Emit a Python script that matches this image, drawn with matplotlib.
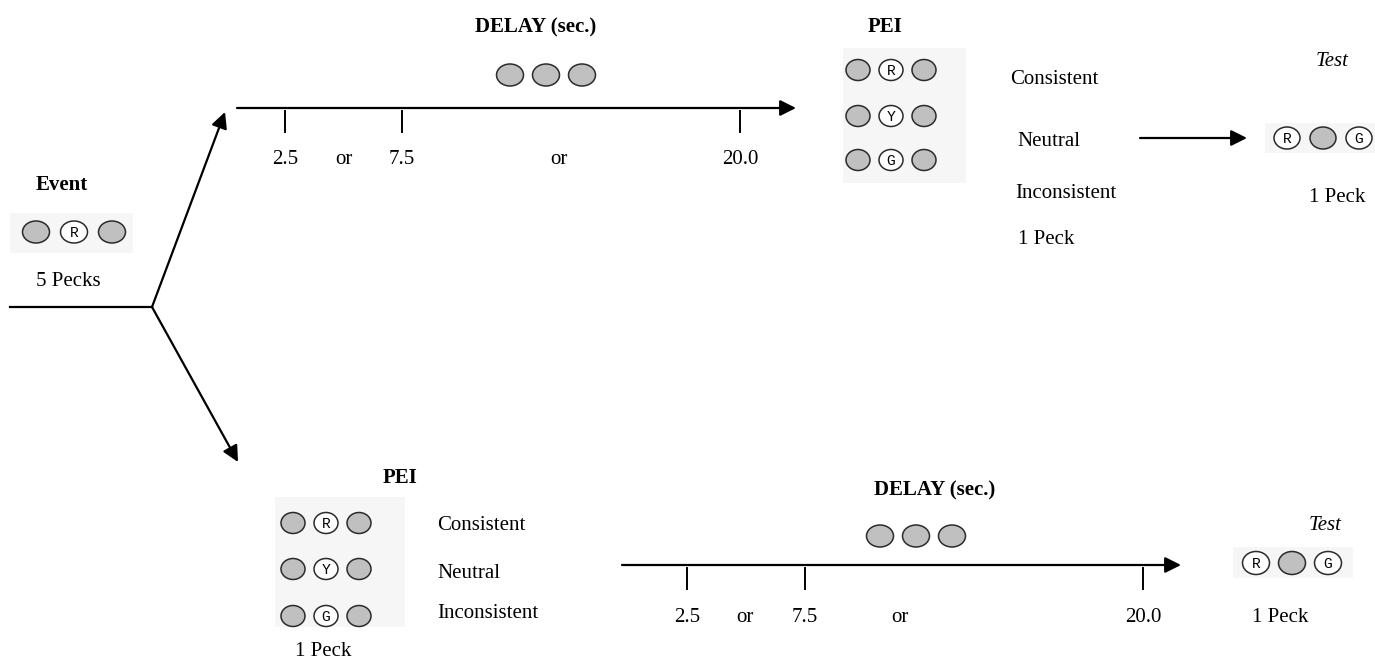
import matplotlib.pyplot as plt
from matplotlib.patches import Ellipse, Rectangle

plt.rcParams['font.family'] = ['Liberation Serif', 'DejaVu Serif']

# keys shown at each stage ('' = plain grey key)
event_keys = ['', 'R', '']
delay_keys = ['', '', '']
pei_keys = [['', 'R', ''], ['', 'Y', ''], ['', 'G', '']]
pei_labels = ['Consistent', 'Neutral', 'Inconsistent']
test_keys = ['R', '', 'G']
delay_ticks = ['2.5', '7.5', '20.0']
delay_or = ['or', 'or']
peck_event = '5 Pecks'
peck_choice = '1 Peck'

GREY = '#c0c0c0'
EDGE = '#2b2b2b'
PANEL = '#f6f6f6'

fig = plt.figure(figsize=(13.75, 6.6), dpi=100)
ax = fig.add_axes([0, 0, 1, 1])
ax.set_xlim(0, 1375)
ax.set_ylim(660, 0)
ax.axis('off')


def keys(row, x0, y, step=36, w=27, h=22):
    for i, k in enumerate(row):
        x = x0 + i * step
        ax.add_patch(Ellipse((x, y), w, h, facecolor='white' if k else GREY,
                             edgecolor=EDGE, lw=1.1, zorder=3))
        if k:
            ax.text(x, y + 1, k, ha='center', va='center', fontsize=10.5,
                    family=['Liberation Mono', 'DejaVu Sans Mono'], zorder=4)


def panel(x0, y0, x1, y1):
    ax.add_patch(Rectangle((x0, y0), x1 - x0, y1 - y0, facecolor=PANEL,
                           edgecolor='none', zorder=1))


def arrow(x0, y0, x1, y1):
    ax.annotate('', xy=(x1, y1), xytext=(x0, y0),
                arrowprops=dict(arrowstyle='-|>', color='black', lw=1.6,
                                mutation_scale=24, shrinkA=0, shrinkB=0))


def timeline(x0, x1, y, ticks_x, or_x, lab_y):
    arrow(x0, y, x1, y)
    for tx, lab in zip(ticks_x, delay_ticks):
        ax.plot([tx, tx], [y + 3, y + 24], color='black', lw=1.4)
        ax.text(tx, lab_y, lab, ha='center', va='center', fontsize=15)
    for ox, lab in zip(or_x, delay_or):
        ax.text(ox, lab_y, lab, ha='center', va='center', fontsize=15)


# event
ax.text(62, 185, 'Event', ha='center', va='center', fontsize=15, fontweight='bold')
panel(10, 213, 133, 253)
keys(event_keys, 36, 232, step=38)
ax.text(68, 282, peck_event, ha='center', va='center', fontsize=15)
ax.plot([10, 152], [307, 307], color='black', lw=1.6)
arrow(152, 307, 225, 112)
arrow(152, 307, 238, 462)

# upper route: delay then PEI
ax.text(536, 27, 'DELAY (sec.)', ha='center', va='center', fontsize=15, fontweight='bold')
keys(delay_keys, 510, 75)
timeline(237, 796, 108, [285, 402, 740], [344, 559], 159)

ax.text(885, 27, 'PEI', ha='center', va='center', fontsize=15, fontweight='bold')
panel(843, 48, 966, 183)
for row, yy in zip(pei_keys, [70, 116, 160]):
    keys(row, 858, yy, step=33, w=24, h=21)
for lab, lx, ly in zip(pei_labels, [1010, 1017, 1015], [79, 141, 194]):
    ax.text(lx, ly, lab, ha='left', va='center', fontsize=15)
ax.text(1018, 240, peck_choice, ha='left', va='center', fontsize=15)

arrow(1140, 138, 1247, 138)
ax.text(1332, 62, 'Test', ha='center', va='center', fontsize=15, style='italic')
panel(1265, 123, 1375, 153)
keys(test_keys, 1287, 138, step=36, w=26, h=22)
ax.text(1337, 198, peck_choice, ha='center', va='center', fontsize=15)

# lower route: PEI then delay
ax.text(400, 478, 'PEI', ha='center', va='center', fontsize=15, fontweight='bold')
panel(275, 497, 405, 627)
for row, yy in zip(pei_keys, [523, 569, 616]):
    keys(row, 293, yy, step=33, w=24, h=21)
for lab, ly in zip(pei_labels, [525, 574, 613]):
    ax.text(437, ly, lab, ha='left', va='center', fontsize=15)
ax.text(323, 652, peck_choice, ha='center', va='center', fontsize=15)

ax.text(935, 490, 'DELAY (sec.)', ha='center', va='center', fontsize=15, fontweight='bold')
keys(delay_keys, 880, 536)
timeline(622, 1181, 565, [687, 805, 1143], [745, 900], 617)

ax.text(1325, 525, 'Test', ha='center', va='center', fontsize=15, style='italic')
panel(1233, 547, 1353, 578)
keys(test_keys, 1256, 563, step=36, w=27, h=23)
ax.text(1280, 617, peck_choice, ha='center', va='center', fontsize=15)

fig.savefig('out.png', dpi=100)
